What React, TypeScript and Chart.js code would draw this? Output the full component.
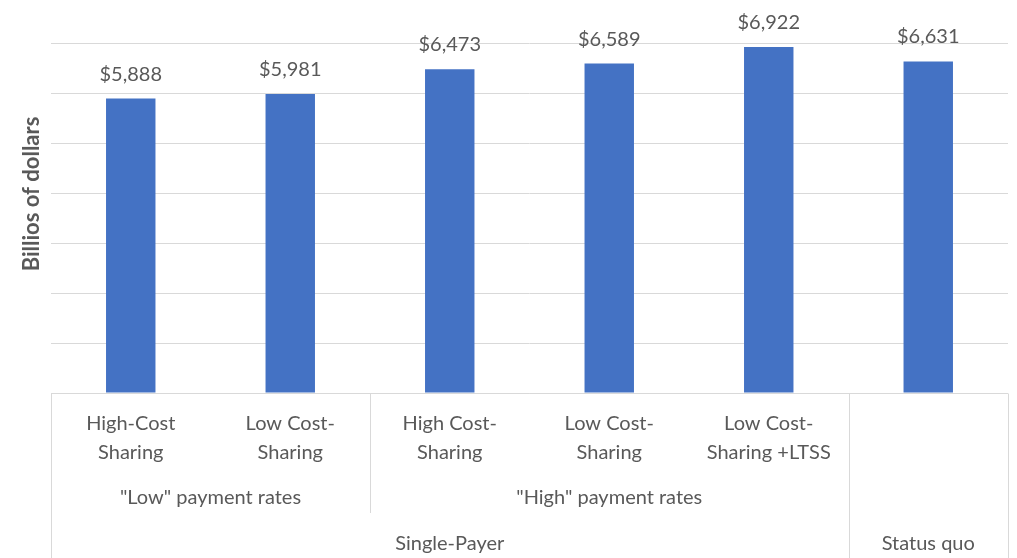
import React, { useEffect, useRef } from "react";
import { Chart, registerables } from "chart.js";

Chart.register(...registerables);

const categoryLines: string[][] = [
  ["High-Cost", "Sharing"],
  ["Low Cost-", "Sharing"],
  ["High Cost-", "Sharing"],
  ["Low Cost-", "Sharing"],
  ["Low Cost-", "Sharing +LTSS"],
  [],
];
const values: number[] = [5888, 5981, 6473, 6589, 6922, 6631];
const valueLabels: string[] = ["$5,888", "$5,981", "$6,473", "$6,589", "$6,922", "$6,631"];
const groupLabels: string[] = ['"Low" payment rates', '"High" payment rates', ""];
const groupSpans: number[] = [2, 3, 1];
const topLabels: string[] = ["Single-Payer", "Status quo"];
const topSpans: number[] = [5, 1];
const yTitle = "Billios of dollars";

const FONT = "Lato, 'Open Sans', sans-serif";
const TEXT = "#595959";
const LINE = "#d9d9d9";

const multiLevelPlugin = {
  id: "multiLevel",
  afterDatasetsDraw(chart: any) {
    const ctx = chart.ctx;
    const meta = chart.getDatasetMeta(0);
    const area = chart.chartArea;
    const xs = chart.scales.x;
    const n = values.length;
    const catW = (area.right - area.left) / n;
    const edge = (i: number) => area.left + catW * i;
    ctx.save();
    // value labels
    ctx.fillStyle = TEXT;
    ctx.font = `20px ${FONT}`;
    ctx.textAlign = "center";
    ctx.textBaseline = "alphabetic";
    meta.data.forEach((bar: any, i: number) => {
      ctx.fillText(valueLabels[i], bar.x, bar.y - 18);
    });
    // axis lines
    ctx.strokeStyle = LINE;
    ctx.lineWidth = 1;
    const base = Math.round(area.bottom) + 0.5;
    const bottom = chart.height;
    ctx.beginPath();
    ctx.moveTo(area.left, base);
    ctx.lineTo(area.right, base);
    ctx.stroke();
    const vline = (x: number, y2: number) => {
      const xx = Math.round(x) + 0.5;
      ctx.beginPath();
      ctx.moveTo(xx, base);
      ctx.lineTo(xx, y2);
      ctx.stroke();
    };
    // top-level separators (full height)
    let acc = 0;
    vline(edge(0), bottom);
    topSpans.forEach((s) => {
      acc += s;
      vline(edge(acc), bottom);
    });
    // group separators (to level-2 bottom)
    acc = 0;
    groupSpans.forEach((s, gi) => {
      acc += s;
      if (gi < groupSpans.length - 1) vline(edge(acc), 513);
    });
    // level 1 labels
    ctx.textBaseline = "middle";
    categoryLines.forEach((lines, i) => {
      const cx = xs.getPixelForValue(i);
      lines.forEach((ln, j) => {
        ctx.fillText(ln, cx, 424 + j * 29);
      });
    });
    // level 2
    acc = 0;
    groupSpans.forEach((s, gi) => {
      const cx = (edge(acc) + edge(acc + s)) / 2;
      ctx.fillText(groupLabels[gi], cx, 498);
      acc += s;
    });
    // level 3
    acc = 0;
    topSpans.forEach((s, ti) => {
      const cx = (edge(acc) + edge(acc + s)) / 2;
      ctx.fillText(topLabels[ti], cx, 544);
      acc += s;
    });
    // y title
    ctx.save();
    ctx.translate(32, 194);
    ctx.rotate(-Math.PI / 2);
    ctx.font = `bold 22px ${FONT}`;
    ctx.fillText(yTitle, 0, 0);
    ctx.restore();
    ctx.restore();
  },
};

export default function App() {
  const ref = useRef<HTMLCanvasElement | null>(null);
  useEffect(() => {
    if (!ref.current) return;
    const chart = new Chart(ref.current, {
      type: "bar",
      data: {
        labels: values.map((_, i) => String(i)),
        datasets: [
          {
            data: values,
            backgroundColor: "#4472C4",
            borderWidth: 0,
            barPercentage: 0.62,
            categoryPercentage: 0.5,
          },
        ],
      },
      options: {
        animation: false,
        responsive: false,
        maintainAspectRatio: false,
        layout: { padding: { left: 51, top: 43, right: 9, bottom: 165 } },
        plugins: { legend: { display: false }, tooltip: { enabled: false } },
        scales: {
          x: { display: false },
          y: {
            min: 0,
            max: 7000,
            ticks: { display: false, stepSize: 1000 },
            grid: { color: LINE, drawTicks: false },
            border: { display: false },
          },
        },
      },
      plugins: [multiLevelPlugin],
    });
    return () => chart.destroy();
  }, []);
  return (
    <div style={{ position: "fixed", left: 0, top: 0, width: 1017, height: 558, background: "#fff" }}>
      <canvas ref={ref} width={1017} height={558} style={{ width: 1017, height: 558 }} />
    </div>
  );
}
